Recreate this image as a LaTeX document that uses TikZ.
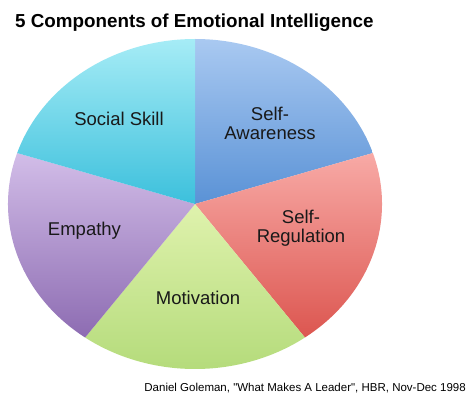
\documentclass[tikz,border=0pt]{standalone}
\usepackage{fontspec}
\setmainfont{Liberation Sans}
\newfontfamily\citefont{Liberation Sans}[Ligatures=ResetAll]
\definecolor{ssTop}{HTML}{A6ECF6}
\definecolor{ssBot}{HTML}{3CC0DC}
\definecolor{saTop}{HTML}{A9C9F1}
\definecolor{saBot}{HTML}{5A92D6}
\definecolor{srTop}{HTML}{F8AAA6}
\definecolor{srBot}{HTML}{DC5650}
\definecolor{moTop}{HTML}{DFF2AD}
\definecolor{moBot}{HTML}{B2DA78}
\definecolor{emTop}{HTML}{D2BDE8}
\definecolor{emBot}{HTML}{8D6CB2}
\begin{document}
\begin{tikzpicture}[x=1pt,y=1pt,
  label/.style={inner sep=0pt,font=\fontsize{18.5}{19}\selectfont,align=center,text=black!90},
  titletext/.style={inner sep=0pt,font=\fontsize{18.8}{22}\selectfont\bfseries},
  citetext/.style={inner sep=0pt,font=\citefont\fontsize{11.5}{13}\selectfont}]
\useasboundingbox[fill=white] (0,0) rectangle (469,397);
\def\RX{187}\def\RY{165}
\coordinate (c) at (195,193);
% slices
\shade[top color=saTop,bottom color=saBot] (c) -- +({\RX*cos(90)},{\RY*sin(90)}) arc[start angle=90,end angle=18,x radius=\RX,y radius=\RY] -- cycle;
\shade[top color=srTop,bottom color=srBot] (c) -- +({\RX*cos(18)},{\RY*sin(18)}) arc[start angle=18,end angle=-54,x radius=\RX,y radius=\RY] -- cycle;
\shade[top color=moTop,bottom color=moBot] (c) -- +({\RX*cos(-54)},{\RY*sin(-54)}) arc[start angle=-54,end angle=-126,x radius=\RX,y radius=\RY] -- cycle;
\shade[top color=emTop,bottom color=emBot] (c) -- +({\RX*cos(-126)},{\RY*sin(-126)}) arc[start angle=-126,end angle=-198,x radius=\RX,y radius=\RY] -- cycle;
\shade[top color=ssTop,bottom color=ssBot] (c) -- +({\RX*cos(162)},{\RY*sin(162)}) arc[start angle=162,end angle=90,x radius=\RX,y radius=\RY] -- cycle;
% labels
\node[label,anchor=base] (social) at (119,271) {Social Skill};
\node[label] (aware) at (270,274) {Self-\\Awareness};
\node[label] (regul) at (301,169) {Self-\\Regulation};
\node[label,anchor=base] (empathy) at (84.5,161) {Empathy};
\node[label,anchor=base] (motiv) at (198,93) {Motivation};
\node[titletext,anchor=base west] (title) at (15,369) {5 Components of Emotional Intelligence};
\node[citetext,anchor=base east] (cite) at (466,6) {Daniel Goleman, "What Makes A Leader", HBR, Nov-Dec 1998};
\end{tikzpicture}
\end{document}
